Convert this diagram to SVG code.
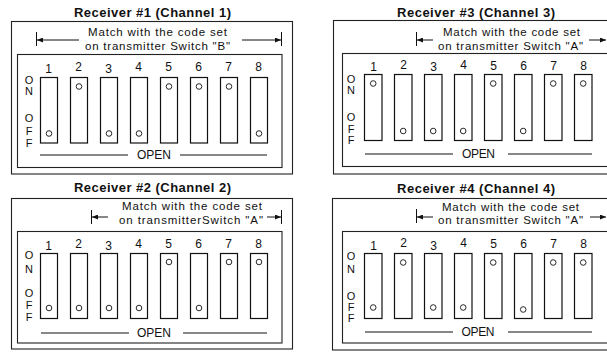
<svg xmlns="http://www.w3.org/2000/svg" width="607" height="352" viewBox="0 0 607 352">
<defs>
<style>
.box{fill:none;stroke:#222;stroke-width:1.1}
.sw{fill:#fff;stroke:#111;stroke-width:1.2}
.dot{fill:#fff;stroke:#111;stroke-width:0.9}
.ln{stroke:#111;stroke-width:1;fill:none}
.t{font-family:"Liberation Sans",Arial,Helvetica,sans-serif;fill:#111}
.title{font-size:13px;font-weight:bold;text-anchor:middle}
.note{font-size:11.5px;text-anchor:middle}
.num{font-size:12px;text-anchor:middle}
.lbl{font-size:11px;text-anchor:middle}
</style>
<marker id="ah" markerUnits="userSpaceOnUse" markerWidth="6" markerHeight="5" refX="6" refY="2.5" orient="auto">
<path d="M0,0 L6,2.5 L0,5 z" fill="#111"/>
</marker>
</defs>
<rect width="607" height="352" fill="#fff"/>

<!-- Receiver 1 -->
<g id="receiver1">
<text class="t title" x="152.5" y="17" textLength="157">Receiver #1 (Channel 1)</text>
<rect class="box" x="11.5" y="21.5" width="281" height="152.5"/>
<rect class="box" x="17.5" y="54.5" width="264.5" height="113"/>
<text class="t note" x="157.5" y="36" textLength="139">Match with the code set</text>
<text class="t note" x="157.5" y="49.5" textLength="145">on transmitter Switch "B"</text>
<g class="t lbl"><text x="29" y="84">O</text><text x="29" y="95">N</text><text x="29" y="122">O</text><text x="29" y="135">F</text><text x="29" y="147">F</text></g>
<g class="t num"><text x="48.5" y="73">1</text><text x="78.5" y="71">2</text><text x="108.5" y="73">3</text><text x="138.5" y="71">4</text><text x="168.5" y="71">5</text><text x="198.5" y="71">6</text><text x="228.5" y="71">7</text><text x="258.5" y="71">8</text></g>
<g id="r1-switches">
<rect class="sw" x="40.5" y="77.5" width="17" height="65.5"/><circle class="dot" cx="49" cy="133.5" r="2.8"/>
<rect class="sw" x="70.5" y="77.5" width="17" height="65.5"/><circle class="dot" cx="79" cy="86.5" r="2.8"/>
<rect class="sw" x="100.5" y="77.5" width="17" height="65.5"/><circle class="dot" cx="109" cy="133.5" r="2.8"/>
<rect class="sw" x="130.5" y="77.5" width="17" height="65.5"/><circle class="dot" cx="139" cy="133.5" r="2.8"/>
<rect class="sw" x="160.5" y="77.5" width="17" height="65.5"/><circle class="dot" cx="169" cy="86.5" r="2.8"/>
<rect class="sw" x="190.5" y="77.5" width="17" height="65.5"/><circle class="dot" cx="199" cy="86.5" r="2.8"/>
<rect class="sw" x="220.5" y="77.5" width="17" height="65.5"/><circle class="dot" cx="229" cy="86.5" r="2.8"/>
<rect class="sw" x="250.5" y="77.5" width="17" height="65.5"/><circle class="dot" cx="259" cy="133.5" r="2.8"/>
</g>
<line class="ln" x1="40" y1="155" x2="128" y2="155"/><line class="ln" x1="180" y1="155" x2="267" y2="155"/>
<text class="t num" x="154" y="159" textLength="34">OPEN</text>
</g>

<!-- Receiver 2 -->
<g id="receiver2">
<text class="t title" x="152.5" y="192" textLength="157">Receiver #2 (Channel 2)</text>
<rect class="box" x="11.5" y="198.5" width="281" height="150.5"/>
<rect class="box" x="17.5" y="231.5" width="264.5" height="111.5"/>
<text class="t note" x="192" y="210" textLength="140">Match with the code set</text>
<text class="t note" x="191" y="223.5" textLength="144">on transmitterSwitch "A"</text>
<g class="t lbl"><text x="29" y="259">O</text><text x="29" y="273">N</text><text x="29" y="297">O</text><text x="29" y="309">F</text><text x="29" y="321">F</text></g>
<g class="t num"><text x="48.5" y="249.5">1</text><text x="78.5" y="248">2</text><text x="108.5" y="249.5">3</text><text x="138.5" y="248">4</text><text x="168.5" y="248">5</text><text x="198.5" y="248">6</text><text x="228.5" y="248">7</text><text x="258.5" y="248">8</text></g>
<g id="r2-switches">
<rect class="sw" x="40.5" y="253.5" width="17" height="65"/><circle class="dot" cx="49" cy="308" r="2.8"/>
<rect class="sw" x="70.5" y="253.5" width="17" height="65"/><circle class="dot" cx="79" cy="308" r="2.8"/>
<rect class="sw" x="100.5" y="253.5" width="17" height="65"/><circle class="dot" cx="109" cy="308" r="2.8"/>
<rect class="sw" x="130.5" y="253.5" width="17" height="65"/><circle class="dot" cx="139" cy="308" r="2.8"/>
<rect class="sw" x="160.5" y="253.5" width="17" height="65"/><circle class="dot" cx="169" cy="262" r="2.8"/>
<rect class="sw" x="190.5" y="253.5" width="17" height="65"/><circle class="dot" cx="199" cy="308" r="2.8"/>
<rect class="sw" x="220.5" y="253.5" width="17" height="65"/><circle class="dot" cx="229" cy="262" r="2.8"/>
<rect class="sw" x="250.5" y="253.5" width="17" height="65"/><circle class="dot" cx="259" cy="262" r="2.8"/>
</g>
<line class="ln" x1="41" y1="333" x2="129" y2="333"/><line class="ln" x1="183" y1="333" x2="267" y2="333"/>
<text class="t num" x="154" y="337" textLength="34">OPEN</text>
</g>

<!-- Receiver 3 -->
<g id="receiver3">
<text class="t title" x="476" y="17" textLength="158">Receiver #3 (Channel 3)</text>
<rect class="box" x="333.5" y="20.5" width="285" height="153.5"/>
<rect class="box" x="342.5" y="53.5" width="265.5" height="113"/>
<text class="t note" x="511.5" y="36" textLength="137">Match with the code set</text>
<text class="t note" x="510.5" y="49.5" textLength="145">on transmitter Switch "A"</text>
<g class="t lbl"><text x="351" y="83">O</text><text x="351" y="94">N</text><text x="351" y="121">O</text><text x="351" y="133">F</text><text x="351" y="144">F</text></g>
<g class="t num"><text x="373.5" y="71">1</text><text x="403.5" y="69">2</text><text x="433.5" y="71">3</text><text x="463.5" y="69">4</text><text x="493.5" y="70">5</text><text x="523.5" y="70">6</text><text x="553.5" y="70">7</text><text x="583.5" y="70">8</text></g>
<g id="r3-switches">
<rect class="sw" x="364.5" y="74.5" width="17.5" height="66"/><circle class="dot" cx="373.2" cy="83.5" r="2.8"/>
<rect class="sw" x="394.5" y="74.5" width="17.5" height="66"/><circle class="dot" cx="403.2" cy="131" r="2.8"/>
<rect class="sw" x="424.5" y="74.5" width="17.5" height="66"/><circle class="dot" cx="433.2" cy="131" r="2.8"/>
<rect class="sw" x="454.5" y="74.5" width="17.5" height="66"/><circle class="dot" cx="463.2" cy="131" r="2.8"/>
<rect class="sw" x="484.5" y="74.5" width="17.5" height="66"/><circle class="dot" cx="493.2" cy="83.5" r="2.8"/>
<rect class="sw" x="514.5" y="74.5" width="17.5" height="66"/><circle class="dot" cx="523.2" cy="131" r="2.8"/>
<rect class="sw" x="544.5" y="74.5" width="17.5" height="66"/><circle class="dot" cx="553.2" cy="83.5" r="2.8"/>
<rect class="sw" x="574.5" y="74.5" width="17.5" height="66"/><circle class="dot" cx="583.2" cy="83.5" r="2.8"/>
</g>
<line class="ln" x1="365" y1="154" x2="453" y2="154"/><line class="ln" x1="508" y1="154" x2="592" y2="154"/>
<text class="t num" x="478.5" y="158" textLength="33">OPEN</text>
</g>

<!-- Receiver 4 -->
<g id="receiver4">
<text class="t title" x="476" y="193" textLength="158">Receiver #4 (Channel 4)</text>
<rect class="box" x="332.5" y="198.5" width="286" height="151.5"/>
<rect class="box" x="342.5" y="231.5" width="265.5" height="111.5"/>
<text class="t note" x="510.5" y="210.5" textLength="137">Match with the code set</text>
<text class="t note" x="510.5" y="224" textLength="145">on transmitter Switch "A"</text>
<g class="t lbl"><text x="351" y="260">O</text><text x="351" y="273">N</text><text x="351" y="300">O</text><text x="351" y="311">F</text><text x="351" y="322">F</text></g>
<g class="t num"><text x="373.5" y="250">1</text><text x="403.5" y="247">2</text><text x="433.5" y="250">3</text><text x="463.5" y="247">4</text><text x="493.5" y="248">5</text><text x="523.5" y="248">6</text><text x="553.5" y="248">7</text><text x="583.5" y="248">8</text></g>
<g id="r4-switches">
<rect class="sw" x="364.5" y="253.5" width="17.5" height="65"/><circle class="dot" cx="373.2" cy="307.5" r="2.8"/>
<rect class="sw" x="394.5" y="253.5" width="17.5" height="65"/><circle class="dot" cx="403.2" cy="262.5" r="2.8"/>
<rect class="sw" x="424.5" y="253.5" width="17.5" height="65"/><circle class="dot" cx="433.2" cy="307.5" r="2.8"/>
<rect class="sw" x="454.5" y="253.5" width="17.5" height="65"/><circle class="dot" cx="463.2" cy="307.5" r="2.8"/>
<rect class="sw" x="484.5" y="253.5" width="17.5" height="65"/><circle class="dot" cx="493.2" cy="262.5" r="2.8"/>
<rect class="sw" x="514.5" y="253.5" width="17.5" height="65"/><circle class="dot" cx="523.2" cy="309.5" r="2.8"/>
<rect class="sw" x="544.5" y="253.5" width="17.5" height="65"/><circle class="dot" cx="553.2" cy="262.5" r="2.8"/>
<rect class="sw" x="574.5" y="253.5" width="17.5" height="65"/><circle class="dot" cx="583.2" cy="262.5" r="2.8"/>
</g>
<line class="ln" x1="365" y1="332" x2="453" y2="332"/><line class="ln" x1="508" y1="332" x2="592" y2="332"/>
<text class="t num" x="478" y="336" textLength="33">OPEN</text>
</g>

<!-- dimension arrows -->
<g id="connectors">
<line class="ln" x1="36.5" y1="32" x2="36.5" y2="46"/>
<line class="ln" x1="79" y1="40" x2="37" y2="40" marker-end="url(#ah)"/>
<line class="ln" x1="281.5" y1="32" x2="281.5" y2="46"/>
<line class="ln" x1="242" y1="40" x2="281" y2="40" marker-end="url(#ah)"/>

<line class="ln" x1="91.5" y1="210" x2="91.5" y2="224"/>
<line class="ln" x1="108" y1="217" x2="92" y2="217" marker-end="url(#ah)"/>
<line class="ln" x1="281.5" y1="210" x2="281.5" y2="224"/>
<line class="ln" x1="267" y1="217" x2="281" y2="217" marker-end="url(#ah)"/>

<line class="ln" x1="416.5" y1="32" x2="416.5" y2="46"/>
<line class="ln" x1="433" y1="40" x2="417" y2="40" marker-end="url(#ah)"/>
<line class="ln" x1="608.5" y1="32" x2="608.5" y2="46"/>
<line class="ln" x1="589" y1="40" x2="606" y2="40" marker-end="url(#ah)"/>

<line class="ln" x1="416.5" y1="209" x2="416.5" y2="223"/>
<line class="ln" x1="433" y1="217" x2="417" y2="217" marker-end="url(#ah)"/>
<line class="ln" x1="608.5" y1="209" x2="608.5" y2="223"/>
<line class="ln" x1="590" y1="217" x2="606" y2="217" marker-end="url(#ah)"/>
</g>
</svg>
